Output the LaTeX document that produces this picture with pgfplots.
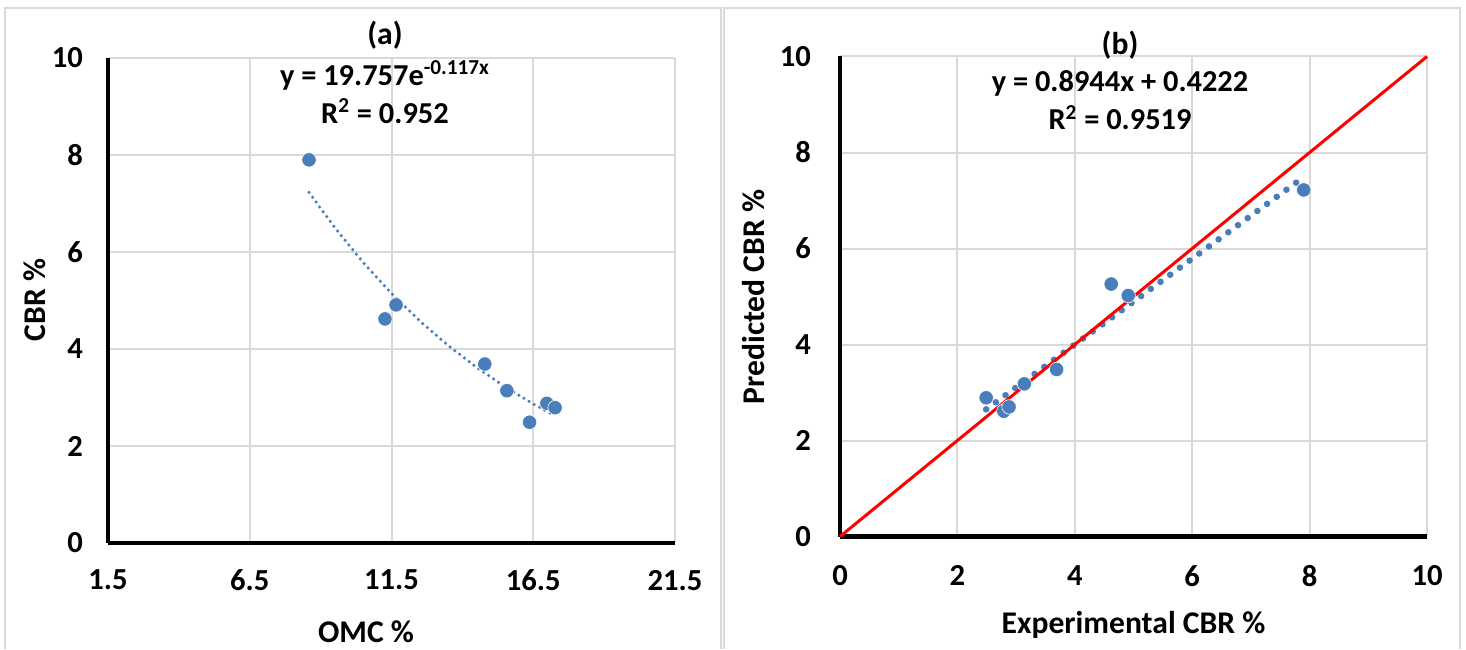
\documentclass[border=0pt]{standalone}
\usepackage{fontspec}
\setmainfont{Carlito}
\usepackage{pgfplots}
\pgfplotsset{compat=1.18}
\definecolor{mblue}{RGB}{74,126,187}
\definecolor{gridgray}{RGB}{217,217,217}
\definecolor{framegray}{RGB}{217,217,217}
\newcommand{\tickfont}{\fontsize{15.3}{18}\selectfont\bfseries}
\newcommand{\labfont}{\fontsize{15.8}{18}\selectfont\bfseries}
\newcommand{\eqfont}{\fontsize{15.2}{19}\selectfont\bfseries}
\pgfplotsset{
  panel/.style={
    scale only axis,
    anchor=south west,
    clip=false,
    axis x line*=bottom,
    axis y line*=left,
    axis line style={-, black, line width=2.2pt},
    grid=major,
    major grid style={gridgray, line width=1pt},
    major tick length=0pt,
    tick style={draw=none},
    ticklabel style={font=\tickfont},
    label style={font=\labfont},
    ymin=0, ymax=10,
    ytick={0,2,4,6,8,10},
    yticklabels={0,2,4,6,8,10},
  }
}
\begin{document}
\begin{tikzpicture}[x=1pt,y=1pt]
\path[use as bounding box] (0,0) rectangle (733,324.5);
\draw[framegray, line width=1pt] (2.5,0) -- (2.5,320.5) -- (360.5,320.5) -- (360.5,0);
\draw[framegray, line width=1pt] (361.8,0) -- (361.8,320.5) -- (730,320.5) -- (730,0);

% ---------------- panel (a)
\begin{axis}[panel,
  at={(54pt,53pt)},
  width=283.5pt, height=242.5pt,
  xmin=1.5, xmax=21.5,
  xtick={1.5,6.5,11.5,16.5,21.5},
  xticklabels={1.5,6.5,11.5,16.5,21.5},
  xticklabel shift=10pt,
  yticklabel shift=9pt,
  xlabel={OMC \%},
  ylabel={CBR \%},
  xlabel style={at={(rel axis cs:0.455,-0.1835)}, anchor=center},
  ylabel style={at={(rel axis cs:-0.129,0.501)}, anchor=center},
]
\addplot[mblue, line width=1.75pt, line cap=round, dash pattern=on 0pt off 3pt]
  coordinates {(8.59,7.229) (9.5,6.502) (10.5,5.783) (11.5,5.145) (12.5,4.577)
   (13.5,4.072) (14.5,3.622) (15.5,3.222) (16.5,2.867) (17.27,2.620)};
\addplot[only marks, mark=*, mark size=3.6pt, mark options={draw=white, line width=0.3pt, fill=mblue}]
  coordinates {(8.59,7.90) (11.66,4.91) (11.27,4.62) (14.79,3.69) (15.57,3.14)
   (16.37,2.49) (16.98,2.88) (17.27,2.79)};
\node[font=\labfont, anchor=center] at (rel axis cs:0.4885,1.047) {(a)};
\node[font=\eqfont, align=center, anchor=center] at (rel axis cs:0.4885,0.93)
  {y = 19.757e\textsuperscript{-0.117x}\\R\textsuperscript{2} = 0.952};
\end{axis}

% ---------------- panel (b)
\begin{axis}[panel,
  at={(420pt,56.25pt)},
  width=293.5pt, height=240pt,
  xmin=0, xmax=10,
  xtick={0,2,4,6,8,10},
  xticklabels={0,2,4,6,8,10},
  xticklabel shift=11pt,
  yticklabel shift=11pt,
  xlabel={Experimental CBR \%},
  ylabel={Predicted CBR \%},
  xlabel style={at={(rel axis cs:0.50,-0.184)}, anchor=center},
  ylabel style={at={(rel axis cs:-0.1465,0.499)}, anchor=center},
]
\addplot[mblue, line width=3.3pt, line cap=round, dash pattern=on 0pt off 6pt]
  coordinates {(2.49,2.649) (7.90,7.488)};
\addplot[only marks, mark=*, mark size=3.6pt, mark options={draw=white, line width=0.3pt, fill=mblue}]
  coordinates {(2.49,2.89) (2.79,2.61) (2.88,2.70) (3.14,3.18) (3.69,3.48)
   (4.62,5.26) (4.91,5.02) (7.90,7.22)};
\addplot[red, line width=1.5pt] coordinates {(0,0) (10,10)};
\node[font=\labfont, anchor=center] at (rel axis cs:0.477,1.024) {(b)};
\node[font=\eqfont, align=center, anchor=center] at (rel axis cs:0.477,0.909)
  {y = 0.8944x + 0.4222\\R\textsuperscript{2} = 0.9519};
\end{axis}
\end{tikzpicture}
\end{document}
